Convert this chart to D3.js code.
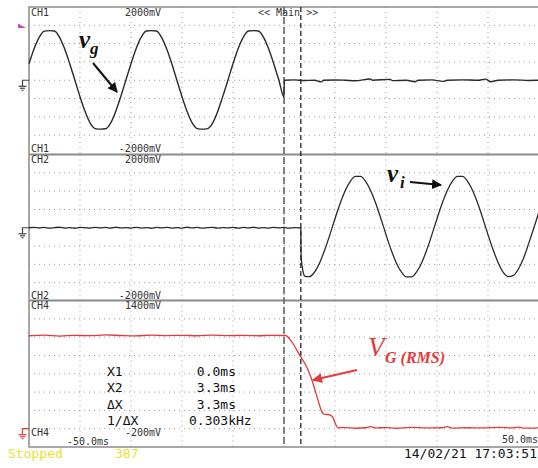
<!DOCTYPE html>
<html lang="en">
<head>
<meta charset="UTF-8">
<title>Scope capture</title>
<script src="https://d3js.org/d3.v7.min.js"></script>
<style>
  body { margin: 0; background: #fff; }
  svg { display: block; }
  .grid line { stroke: #9a9a9a; stroke-width: 1; stroke-dasharray: 1,4; }
  .lbl { font-family: "DejaVu Sans Mono", monospace; font-size: 10px; fill: #333; }
  .meas { font-family: "DejaVu Sans Mono", monospace; font-size: 13px; fill: #111; white-space: pre; }
  .ann { font-family: "Liberation Serif", serif; font-style: italic; }
</style>
</head>
<body>
<script>
// time axis of the screen, ms (10 divisions)
const timeRange = [-50, 50];
const cursorTimes = [0, 3.3];

// CH1 v_g, one value per ms from -50 ms to the cut at 0 ms (mV)
const vgStart = -50;
const vgValues = [450, 860, 1170, 1340, 1355, 1345, 1170, 850, 445, 0,
  -450, -855, -1170, -1320, -1335, -1325, -1170, -850, -445, 5,
  450, 860, 1175, 1345, 1355, 1345, 1170, 850, 450, 0,
  -450, -855, -1165, -1320, -1335, -1320, -1170, -850, -440, 0,
  450, 860, 1170, 1345, 1355, 1345, 1170, 850, 445, 0, -460];
// CH1 after the cut, [ms, mV]
const vgAfter = [[0.05, 0], [2, 10], [4, -8], [6, 0], [7.3, -45], [7.8, 0], [10, 8], [12, 0],
  [14, -12], [16.9, 35], [17.4, 0], [20.8, 25], [21.3, -10], [24, 0], [25.7, -40], [26.3, 0],
  [29, 10], [31.2, -30], [32, 0], [35, 10], [38, 0], [39.5, 30], [40.5, -40], [42, 0],
  [45, 10], [48, -5], [50, 0]];

// CH2 v_i before and at the switch, [ms, mV]
const viBefore = [[-50, 0], [-49, 12], [-48, -6], [-47, 10], [-46, -12], [-45, 4], [-44, 14],
  [-43, -8], [-42, 6], [-41, -14], [-40, 10], [-39, 2], [-38, -10], [-37, 12], [-36, -4],
  [-35, 8], [-34, -12], [-33, 14], [-32, -6], [-31, 4], [-30, -10], [-29, 12], [-28, -8],
  [-27, 6], [-26, -14], [-25, 10], [-24, -2], [-23, 12], [-22, -10], [-21, 6], [-20, -8],
  [-19, 14], [-18, -6], [-17, 8], [-16, -12], [-15, 4], [-14, 10], [-13, -10], [-12, 6],
  [-11, -4], [-10, 12], [-9, -12], [-8, 8], [-7, -6], [-6, 14], [-5, -10], [-4, 4], [-3, -8],
  [-2, 12], [-1, -6], [0, 10], [1, -12], [2, 6], [3, -4], [3.3, 0], [3.35, -750],
  [3.5, -1000], [3.8, -1230]];
// CH2 v_i after the switch, one value per ms from 4 ms (mV)
const viStart = 4;
const viValues = [-1320, -1335, -1208, -953, -601, -187, 247, 661, 1013, 1268, 1403,
  1403, 1268, 1013, 661, 247, -187, -601, -953, -1208, -1343,
  -1343, -1208, -953, -601, -187, 247, 661, 1013, 1268, 1403,
  1403, 1268, 1013, 661, 247, -187, -601, -953, -1220, -1335,
  -1300, -1120, -820, -420, 0, 440];

// CH4 V_G(RMS), [ms, mV]
const vgRms = [[-50, 1015], [-47, 1022], [-44, 1012], [-41, 1020], [-38, 1016], [-35, 1024],
  [-32, 1018], [-29, 1014], [-26, 1021], [-23, 1017], [-20, 1020], [-17, 1015], [-14, 1022],
  [-11, 1016], [-8, 1019], [-5, 1015], [-2.7, 1020], [0.3, 1018], [1.5, 950], [3.1, 800],
  [4.5, 669], [5.3, 560], [6.7, 306], [7.3, 200], [7.8, 160], [9.0, 150], [9.6, 120],
  [10.2, 40], [10.6, 9], [12, 12], [14, 5], [16, 10], [17, 22], [18, 8], [20, 12], [22, 5],
  [25, 14], [28, 8], [31, 10], [32, 22], [33, 6], [36, 10], [39, 8], [42, 14], [45, 8],
  [46, 18], [47, 6], [50, 10]];

// channel scales (top, bottom) and screen labels
const chNames = ["CH1", "CH2", "CH4"];
const chRange = [[2000, -2000], [2000, -2000], [1400, -200]];
const chTopText = ["2000mV", "2000mV", "1400mV"];
const chBotText = ["-2000mV", "-2000mV", "-200mV"];
const chColor = ["#333", "#333", "#e03a3a"];

const measNames = ["X1", "X2", "\u0394X", "1/\u0394X"];
const measValues = [" 0.0ms", " 3.3ms", " 3.3ms", "0.303kHz"];

const W = 538, H = 468;
const left = 29, right = 539;
const panelTop = [7, 154.5, 300.5];
const panelH = 146.5;
const traceColor = "#2a2a2a", red = "#e8383a";

const svg = d3.select("body").append("svg").attr("width", W).attr("height", H);
svg.append("rect").attr("width", W).attr("height", H).attr("fill", "#fff");

const defs = svg.append("defs");
[["arrBlack", "#111"], ["arrRed", red]].forEach(([id, c]) => {
  defs.append("marker").attr("id", id).attr("viewBox", "0 0 10 10")
    .attr("refX", 9).attr("refY", 5).attr("markerWidth", 5).attr("markerHeight", 5)
    .attr("orient", "auto")
    .append("path").attr("d", "M0,0 L10,5 L0,10 z").attr("fill", c);
});

const x = d3.scaleLinear().domain(timeRange).range([left, right]);
const ys = panelTop.map((t, i) => d3.scaleLinear().domain(chRange[i]).range([t, t + panelH]));

// grid
const grid = svg.append("g").attr("class", "grid");
ys.forEach((y, i) => {
  const [hi, lo] = chRange[i];
  const step = (hi - lo) / 8;
  grid.selectAll(null).data(d3.range(1, 8).map(k => lo + k * step)).enter().append("line")
    .attr("x1", left).attr("x2", right).attr("y1", d => y(d)).attr("y2", d => y(d));
  grid.selectAll(null).data(x.ticks(10).slice(1, -1)).enter().append("line")
    .attr("x1", d => x(d)).attr("x2", d => x(d))
    .attr("y1", panelTop[i]).attr("y2", panelTop[i] + panelH)
    .attr("stroke-dasharray", "1,2");
});

// frame and panel dividers
svg.append("rect").attr("x", left).attr("y", panelTop[0]).attr("width", right - left)
  .attr("height", panelTop[2] + panelH - panelTop[0])
  .attr("fill", "none").attr("stroke", "#8a8a8a").attr("stroke-width", 1.5);
svg.selectAll(null).data(panelTop.slice(1)).enter().append("line")
  .attr("x1", left).attr("x2", right).attr("y1", d => d).attr("y2", d => d)
  .attr("stroke", "#8a8a8a").attr("stroke-width", 2);

// cursors
svg.append("line").attr("x1", x(cursorTimes[0])).attr("x2", x(cursorTimes[0]))
  .attr("y1", panelTop[0]).attr("y2", panelTop[2] + panelH)
  .attr("stroke", "#666").attr("stroke-width", 1.6).attr("stroke-dasharray", "7,3");
svg.append("line").attr("x1", x(cursorTimes[1])).attr("x2", x(cursorTimes[1]))
  .attr("y1", panelTop[0]).attr("y2", panelTop[2] + panelH)
  .attr("stroke", "#111").attr("stroke-width", 1.2).attr("stroke-dasharray", "5,3");

// traces
const vgData = vgValues.map((v, i) => [vgStart + i, v]).concat(vgAfter);
const viData = viBefore.concat(viValues.map((v, i) => [viStart + i, v]));
const lineFor = y => d3.line().x(d => x(d[0])).y(d => y(d[1])).curve(d3.curveMonotoneX);

svg.append("path").datum(vgData).attr("d", lineFor(ys[0]))
  .attr("fill", "none").attr("stroke", traceColor).attr("stroke-width", 1.4);
svg.append("path").datum(viData).attr("d", lineFor(ys[1]))
  .attr("fill", "none").attr("stroke", traceColor).attr("stroke-width", 1.3);
svg.append("path").datum(vgRms).attr("d", lineFor(ys[2]))
  .attr("fill", "none").attr("stroke", red).attr("stroke-width", 1.3);

// channel labels
chNames.forEach((name, i) => {
  const c = chColor[i];
  const top = panelTop[i], bot = panelTop[i] + panelH;
  const botY = i === 2 ? bot - 11 : bot - 2;
  svg.append("text").attr("class", "lbl").attr("x", 31).attr("y", top + 8.5).attr("fill", c).text(name);
  svg.append("text").attr("class", "lbl").attr("x", 161).attr("y", top + 8.5)
    .attr("text-anchor", "end").attr("fill", c).text(chTopText[i]);
  svg.append("text").attr("class", "lbl").attr("x", 31).attr("y", botY).attr("fill", c).text(name);
  svg.append("text").attr("class", "lbl").attr("x", 161).attr("y", botY)
    .attr("text-anchor", "end").attr("fill", c).text(chBotText[i]);

  // ground marker
  const g0 = ys[i](0);
  const gs = i === 2 ? red : "#444";
  const gnd = svg.append("g").attr("stroke", gs).attr("stroke-width", 1.2);
  gnd.append("path").attr("d", `M${left},${g0}H22.5V${g0 + 6}`).attr("fill", "none");
  gnd.append("line").attr("x1", 18.5).attr("x2", 26.5).attr("y1", g0 + 6).attr("y2", g0 + 6);
  gnd.append("line").attr("x1", 20).attr("x2", 25).attr("y1", g0 + 8).attr("y2", g0 + 8);
  gnd.append("line").attr("x1", 21.5).attr("x2", 23.5).attr("y1", g0 + 10).attr("y2", g0 + 10);
});

// trigger level marker
svg.append("path").attr("d", "M18,23.5 L26,28 L18,28 z").attr("fill", "#c050c0");

svg.append("text").attr("class", "lbl").attr("x", 258).attr("y", 16).attr("fill", "#d6d460")
  .text("<< Main >>");
svg.append("text").attr("class", "lbl").attr("x", 67).attr("y", 445).attr("fill", "#333").text("-50.0ms");
svg.append("text").attr("class", "lbl").attr("x", 538).attr("y", 443).attr("text-anchor", "end")
  .attr("fill", "#333").text("50.0ms");

// status line
const status = "font-family:'DejaVu Sans Mono',monospace;font-size:13px";
svg.append("text").attr("x", 8).attr("y", 458).attr("style", status).attr("fill", "#ece02a").text("Stopped");
svg.append("text").attr("x", 115).attr("y", 458).attr("style", status).attr("fill", "#ece02a").text("387");
svg.append("text").attr("x", 537).attr("y", 458).attr("style", status).attr("text-anchor", "end")
  .attr("fill", "#111").text("14/02/21 17:03:51");

// cursor readout
measNames.forEach((n, i) => {
  const yy = 376 + i * 16.3;
  svg.append("text").attr("class", "meas").attr("x", 107).attr("y", yy).text(n);
  svg.append("text").attr("class", "meas").attr("x", 189).attr("y", yy).text(measValues[i]);
});

// annotations
svg.append("text").attr("class", "ann").attr("x", 79).attr("y", 48)
  .attr("font-size", 25).attr("font-weight", "bold").attr("fill", "#111").text("v");
svg.append("text").attr("class", "ann").attr("x", 90).attr("y", 54)
  .attr("font-size", 17).attr("font-weight", "bold").attr("fill", "#111").text("g");
svg.append("line").attr("x1", 93).attr("y1", 63).attr("x2", 117).attr("y2", 92)
  .attr("stroke", "#111").attr("stroke-width", 2).attr("marker-end", "url(#arrBlack)");

svg.append("text").attr("class", "ann").attr("x", 387).attr("y", 182)
  .attr("font-size", 25).attr("font-weight", "bold").attr("fill", "#111").text("v");
svg.append("text").attr("class", "ann").attr("x", 400).attr("y", 188)
  .attr("font-size", 17).attr("font-weight", "bold").attr("fill", "#111").text("i");
svg.append("line").attr("x1", 410).attr("y1", 182).attr("x2", 441).attr("y2", 185)
  .attr("stroke", "#111").attr("stroke-width", 2).attr("marker-end", "url(#arrBlack)");

svg.append("text").attr("class", "ann").attr("x", 368).attr("y", 356)
  .attr("font-size", 27).attr("fill", red).text("V");
svg.append("text").attr("class", "ann").attr("x", 385).attr("y", 363)
  .attr("font-size", 16).attr("font-weight", "bold").attr("fill", red).text("G (RMS)");
svg.append("line").attr("x1", 357).attr("y1", 370).attr("x2", 313).attr("y2", 380)
  .attr("stroke", red).attr("stroke-width", 2).attr("marker-end", "url(#arrRed)");
</script>
</body>
</html>
